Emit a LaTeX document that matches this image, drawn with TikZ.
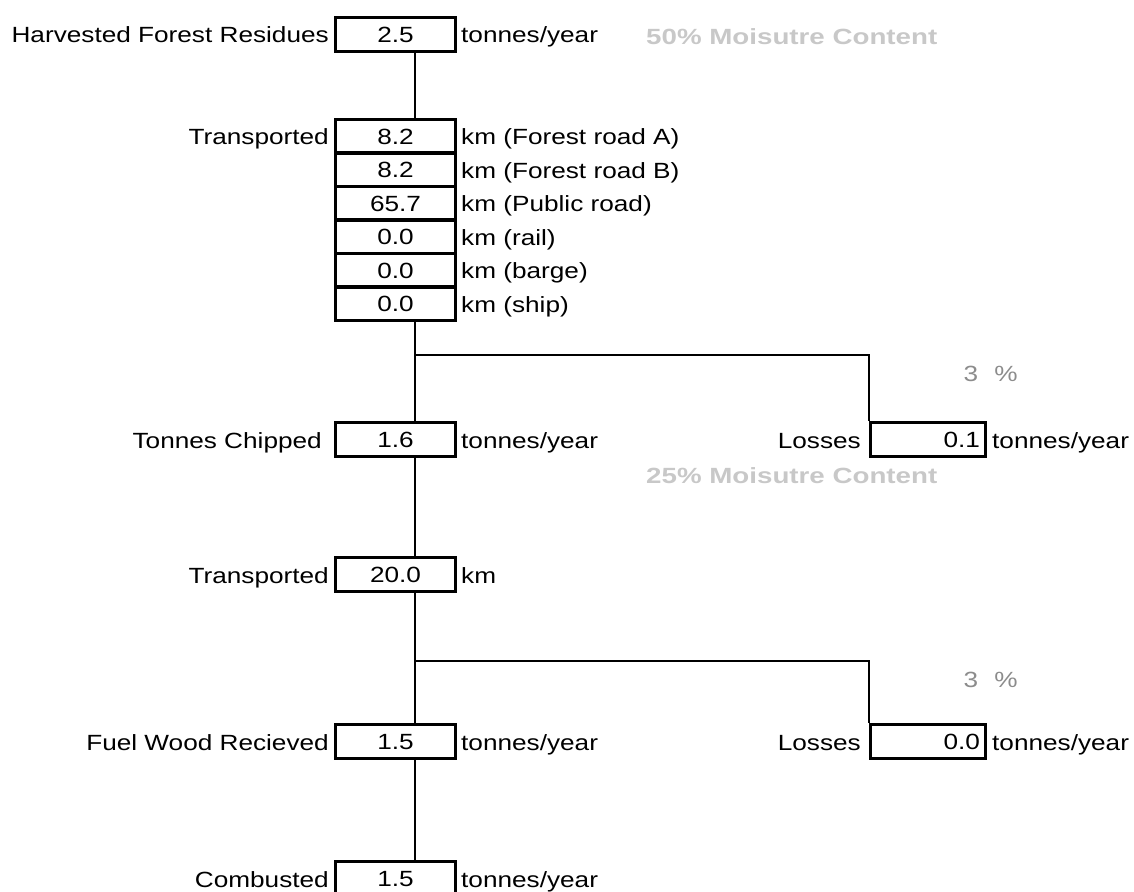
\documentclass[tikz,border=0pt]{standalone}
\usepackage{fontspec}
\setmainfont[FakeStretch=1.19]{Liberation Sans}
\newfontfamily\notefont[FakeStretch=1.26]{Liberation Sans}
\definecolor{notegray}{RGB}{200,200,200}
\definecolor{pctgray}{RGB}{140,140,140}

\begin{document}
\begin{tikzpicture}[x=1pt,y=-1pt,
  font=\fontsize{22}{26}\selectfont,
  valbox/.style={draw, line width=3.3pt, minimum width=120pt, minimum height=34pt,
    inner sep=0pt, text height=15.5pt, text depth=0pt},
  rowbox/.style={valbox, minimum height=33.5pt},
  lossbox/.style={valbox, minimum width=115pt, text width=104pt, align=right},
  conn/.style={line width=2pt},
  lbl/.style={anchor=base east, inner sep=0pt},
  unit/.style={anchor=base west, inner sep=0pt},
  note/.style={anchor=base west, inner sep=0pt, text=notegray,
    font=\notefont\bfseries\fontsize{22}{26}\selectfont},
  pct/.style={anchor=base, inner sep=0pt, text=pctgray}]

\useasboundingbox (0,0) rectangle (1134,891);

% harvested residues
\node[valbox] (hfr) at (395.5,34.5) {2.5};
\node[lbl] (hfr-l) at (329,43) {Harvested Forest Residues};
\node[unit] (hfr-u) at (461,43) {tonnes/year};
\node[note] (mc50) at (646,45) {50\% Moisutre Content};

% first transport legs, stacked
\foreach \i/\v/\u in {1/8.2/km (Forest road A), 2/8.2/km (Forest road B),
    3/65.7/km (Public road), 4/0.0/km (rail), 5/0.0/km (barge), 6/0.0/km (ship)} {
  \node[rowbox] (r\i) at (395.5,{119.5+33.5*(\i-0.5)}) {\v};
  \node[unit] (r\i-u) at (461,{128+33.5*(\i-0.5)}) {\u};
}
\node[lbl] (r1-l) at (329,144.75) {Transported};

% chipping and first losses
\node[valbox] (tc) at (395.5,439.5) {1.6};
\node[lbl] (tc-l) at (322,448) {Tonnes Chipped};
\node[unit] (tc-u) at (461,448) {tonnes/year};
\node[lossbox] (loss1) at (928,439.5) {0.1};
\node[lbl] (loss1-l) at (861,448) {Losses};
\node[unit] (loss1-u) at (992,448) {tonnes/year};
\node[pct] (p1n) at (971,381) {3};
\node[pct] (p1s) at (1006,381) {\%};
\node[note] (mc25) at (646,483) {25\% Moisutre Content};

% second transport
\node[valbox] (tr2) at (395.5,574.5) {20.0};
\node[lbl] (tr2-l) at (329,583) {Transported};
\node[unit] (tr2-u) at (461,583) {km};

% delivery and second losses
\node[valbox] (fw) at (395.5,741.5) {1.5};
\node[lbl] (fw-l) at (329,750) {Fuel Wood Recieved};
\node[unit] (fw-u) at (461,750) {tonnes/year};
\node[lossbox] (loss2) at (928,741.5) {0.0};
\node[lbl] (loss2-l) at (861,750) {Losses};
\node[unit] (loss2-u) at (992,750) {tonnes/year};
\node[pct] (p2n) at (971,687) {3};
\node[pct] (p2s) at (1006,687) {\%};

% combustion
\node[valbox] (cb) at (395.5,878.5) {1.5};
\node[lbl] (cb-l) at (329,887) {Combusted};
\node[unit] (cb-u) at (461,887) {tonnes/year};

% flow lines
\coordinate (sp) at (415,0);
\coordinate (br1) at (415,355);
\coordinate (br2) at (415,661);
\draw[conn] (hfr.south -| sp) -- (r1.north -| sp);
\draw[conn] (r6.south -| sp) -- (tc.north -| sp);
\draw[conn] (br1) -| (loss1.north west);
\draw[conn] (tc.south -| sp) -- (tr2.north -| sp);
\draw[conn] (tr2.south -| sp) -- (fw.north -| sp);
\draw[conn] (br2) -| (loss2.north west);
\draw[conn] (fw.south -| sp) -- (cb.north -| sp);
\end{tikzpicture}
\end{document}
